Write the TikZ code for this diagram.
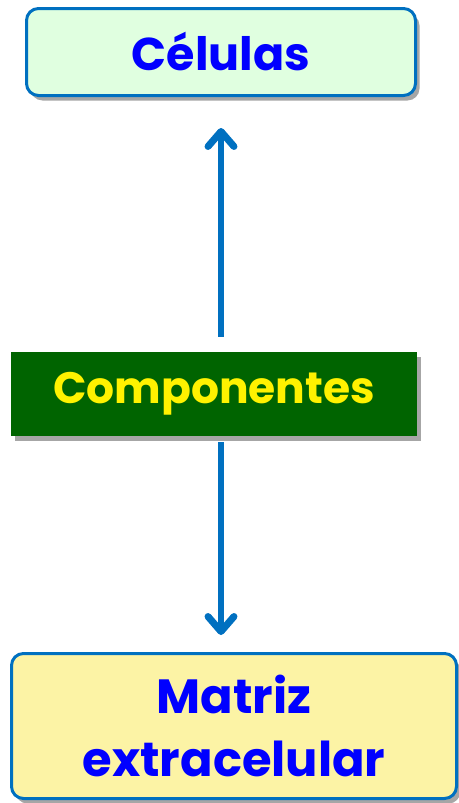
\documentclass[tikz,border=0pt]{standalone}
\usepackage{fontspec}
\setmainfont{Poppins}
\usetikzlibrary{arrows.meta,shadows}

\definecolor{lineblue}{RGB}{0,112,192}
\definecolor{textblue}{RGB}{0,0,255}
\definecolor{boxgreen}{RGB}{0,100,0}
\definecolor{palegreen}{RGB}{224,255,224}
\definecolor{paleyellow}{RGB}{252,243,165}

\tikzset{
  cellbox/.style={draw=lineblue, line width=3pt, rounded corners=12pt,
    text=textblue, font=\bfseries, align=center, inner sep=0pt,
    drop shadow={shadow xshift=4pt, shadow yshift=-5pt, opacity=0.35, fill=black}},
  titlebox/.style={fill=boxgreen, text=yellow, font=\bfseries, inner sep=0pt,
    drop shadow={shadow xshift=4pt, shadow yshift=-5pt, opacity=0.35, fill=black}},
  conn/.style={draw=lineblue, line width=5.5pt,
    -{Straight Barb[length=15pt, width=26pt, round, line width=7pt]}},
}

\begin{document}
\begin{tikzpicture}[x=1pt,y=-1pt]
\useasboundingbox (0,0) rectangle (458,803);
\node[cellbox, fill=palegreen, minimum width=389pt, minimum height=87pt,
  font=\fontsize{46}{50}\selectfont\bfseries] (cel) at (221,52) {Células};
\node[titlebox, minimum width=406pt, minimum height=84pt,
  font=\fontsize{44}{48}\selectfont\bfseries] (comp) at (214,394) {Componentes};
\node[cellbox, fill=paleyellow, minimum width=445pt, minimum height=145pt,
  font=\fontsize{48}{63}\selectfont\bfseries] (mat) at (234,726) {Matriz\\extracelular};
% conectores
\draw[conn, shorten <=15pt, shorten >=31pt] (cel.south |- comp.north) -- (cel.south);
\draw[conn, shorten <=6pt, shorten >=17pt] (cel.south |- comp.south) -- (cel.south |- mat.north);
\end{tikzpicture}
\end{document}
